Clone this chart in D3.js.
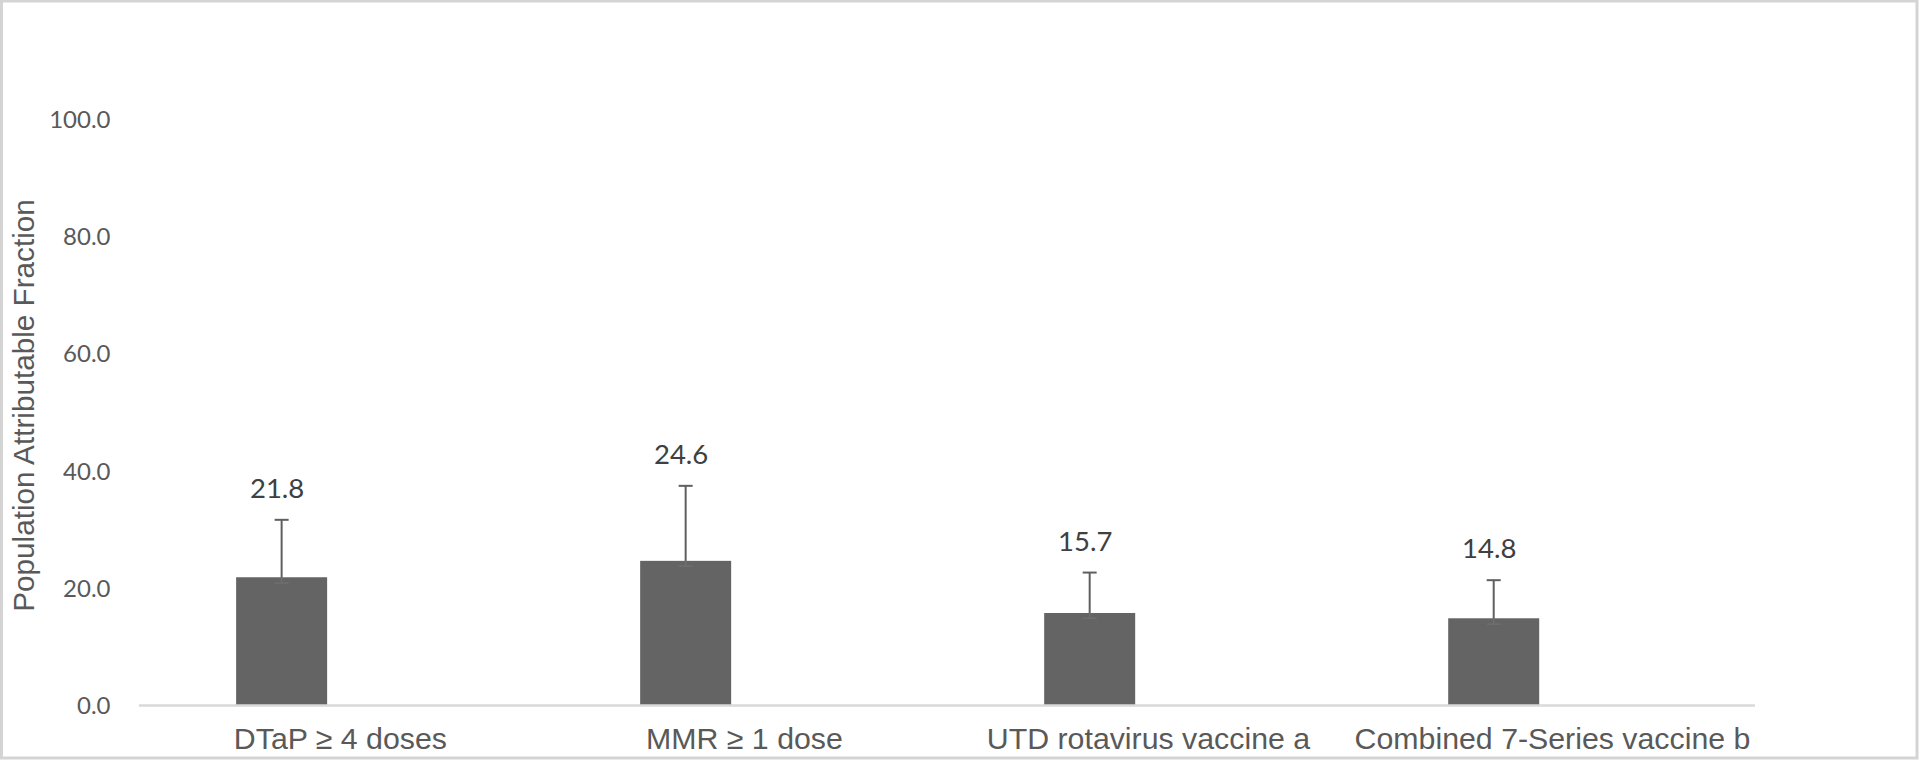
<!DOCTYPE html>
<html>
<head>
<meta charset="utf-8">
<script src="https://cdn.jsdelivr.net/npm/d3@7"></script>
<style>
  html, body { margin: 0; padding: 0; background: #fff; }
  svg { display: block; }
</style>
</head>
<body>
<script>
// ---- Data ----
const categories = ["DTaP \u2265 4 doses", "MMR \u2265 1 dose", "UTD rotavirus vaccine a", "Combined 7-Series vaccine b"];
const pafValues = [21.8, 24.6, 15.7, 14.8];
const upperCI = [31.6, 37.4, 22.6, 21.3];
const lowerCI = [20.8, 23.7, 14.8, 13.8];
const yTicks = [0, 20, 40, 60, 80, 100];
const yTitle = "Population Attributable Fraction";

// ---- Layout ----
const W = 1920, H = 761;
const svg = d3.select("body").append("svg").attr("width", W).attr("height", H);

// outer border
svg.append("rect").attr("x", 1.5).attr("y", 1).attr("width", W - 4.5).attr("height", H - 4)
  .attr("fill", "#fff").attr("stroke", "#d4d4d4").attr("stroke-width", 3);

const y = d3.scaleLinear().domain([0, 100]).range([705, 119]);
const x = d3.scaleBand().domain(categories).range([138.4, 1754.5]);
const barW = 91;
const barCenter = c => x(c) + x.bandwidth() * 0.3545;

const textColor = "#595959";

// y tick labels (axis with no line/ticks)
const yAxis = d3.axisLeft(y).tickValues(yTicks).tickFormat(d3.format(".1f")).tickSize(0).tickPadding(0);
const gy = svg.append("g").attr("transform", "translate(110.5,0)").call(yAxis);
gy.select(".domain").remove();
gy.selectAll("text").attr("font-family", "Lato, 'Open Sans', sans-serif").attr("font-size", 24)
  .attr("fill", textColor).attr("dy", "0.35em");

// y title
svg.append("text")
  .attr("transform", "translate(33.5,405.5) rotate(-90)")
  .attr("text-anchor", "middle")
  .attr("font-family", "'Liberation Sans', Arial, sans-serif")
  .attr("font-size", 29.7).attr("fill", textColor)
  .text(yTitle);

// error bars (drawn behind bars)
const eb = svg.append("g").attr("stroke", "#5f5f5f").attr("stroke-width", 2);
categories.forEach((c, i) => {
  const cx = barCenter(c);
  eb.append("line").attr("x1", cx).attr("x2", cx).attr("y1", y(upperCI[i])).attr("y2", y(lowerCI[i]));
  eb.append("line").attr("x1", cx - 7).attr("x2", cx + 7).attr("y1", y(upperCI[i])).attr("y2", y(upperCI[i]));
});

// bars
svg.append("g").selectAll("rect").data(categories).join("rect")
  .attr("x", c => barCenter(c) - barW / 2)
  .attr("width", barW)
  .attr("y", (c, i) => y(pafValues[i]))
  .attr("height", (c, i) => y(0) - y(pafValues[i]))
  .attr("fill", "#646464");

// faint lower error parts over bars
const eb2 = svg.append("g").attr("stroke", "#7a7a7a").attr("stroke-width", 1.5).attr("opacity", 0.5);
categories.forEach((c, i) => {
  const cx = barCenter(c);
  eb2.append("line").attr("x1", cx).attr("x2", cx).attr("y1", y(pafValues[i])).attr("y2", y(lowerCI[i]));
  eb2.append("line").attr("x1", cx - 7).attr("x2", cx + 7).attr("y1", y(lowerCI[i])).attr("y2", y(lowerCI[i]));
});

// x axis
const xAxis = d3.axisBottom(x).tickSize(0).tickPadding(0);
const gx = svg.append("g").attr("transform", `translate(0,${y(0)})`).call(xAxis);
gx.select(".domain").attr("stroke", "#d9d9d9").attr("stroke-width", 2.5);
gx.selectAll("text")
  .attr("font-family", "'Liberation Sans', Arial, sans-serif").attr("font-size", 30.3)
  .attr("fill", textColor).attr("dy", "0").attr("y", 44);

// data labels
svg.append("g").selectAll("text").data(categories).join("text")
  .attr("x", c => barCenter(c) - 4.5)
  .attr("y", (c, i) => y(upperCI[i]) - 22)
  .attr("text-anchor", "middle")
  .attr("font-family", "Lato, 'Open Sans', sans-serif").attr("font-size", 27.5)
  .attr("fill", "#404040")
  .text((c, i) => pafValues[i].toFixed(1));
</script>
</body>
</html>
